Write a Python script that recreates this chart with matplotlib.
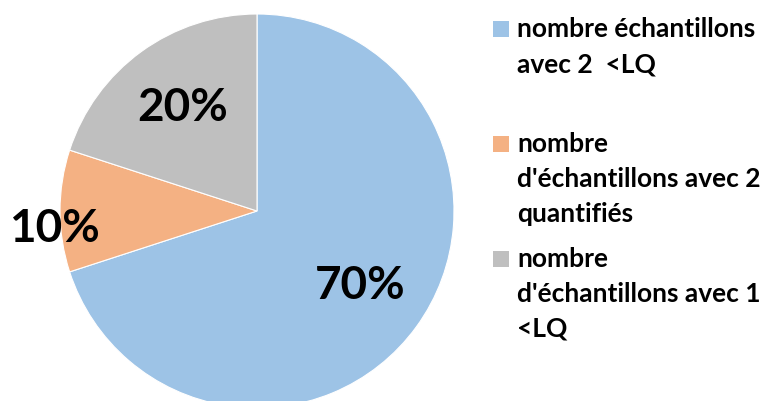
import numpy as np
import matplotlib.pyplot as plt
from matplotlib.patches import Rectangle

labels = ["nombre échantillons\navec 2  <LQ",
          "nombre\nd'échantillons avec 2\nquantifiés",
          "nombre\nd'échantillons avec 1\n<LQ"]
values = [70, 10, 20]
colors = ["#9DC3E6", "#F4B183", "#BFBFBF"]

FONT = ["Lato", "DejaVu Sans"]
W, H = 774, 401
fig = plt.figure(figsize=(W / 100, H / 100), dpi=100)

# pie geometry in pixels
R = 197.0
cx, cy = 257, 211
ax = fig.add_axes([(cx - 1.3 * R) / W, (H - cy - 1.1 * R) / H, 2.6 * R / W, 2.15 * R / H])
wedges, texts, autotexts = ax.pie(
    values, colors=colors, startangle=90, counterclock=False,
    autopct=lambda p: f"{p:.0f}%", pctdistance=0.645,
    wedgeprops=dict(edgecolor="white", linewidth=0.8),
    textprops=dict(fontsize=33, fontweight="bold", family=FONT, color="black"))
ax.set_xlim(-1.3, 1.3)
ax.set_ylim(-1.1, 1.05)
ax.set_aspect("auto")

# the small slice has its label pushed out to the rim
w = wedges[1]
th = np.deg2rad((w.theta1 + w.theta2) / 2)
autotexts[1].set_position((1.03 * np.cos(th), 1.03 * np.sin(th) - 0.09))

# legend, drawn by hand to keep the excel spacing
first_base = [37, 152, 267]
step = 35
for lab, col, yb in zip(labels, colors, first_base):
    fig.add_artist(Rectangle((493 / W, 1 - yb / H), 16 / W, 16 / H,
                             transform=fig.transFigure, facecolor=col, edgecolor="none"))
    for i, line in enumerate(lab.split("\n")):
        fig.text(517 / W, 1 - (yb + i * step) / H, line, fontsize=19, fontweight="bold",
                 family=FONT, color="black", va="baseline", ha="left")

fig.savefig("out.png", dpi=100)
